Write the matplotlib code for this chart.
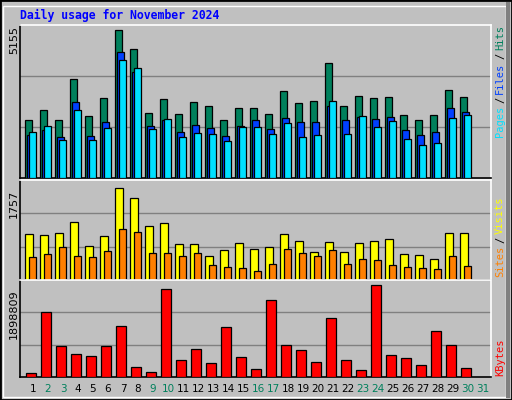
import matplotlib
matplotlib.use("Agg")
import matplotlib.pyplot as plt
from matplotlib.patches import Rectangle

days = list(range(1, 31))
hits = [2006,2356,2006,3441,2146,2776,5155,4490,2251,2741,2216,2636,2496,2006,2426,2426,2216,3021,2601,2671,4000,2496,2846,2776,2811,2181,2006,2181,3056,2811]
files = [1481,1656,1411,2636,1446,1936,4385,3697,1796,2006,1586,1831,1726,1446,1796,2006,1691,2076,1936,1936,2496,2006,2111,2041,2111,1656,1481,1586,2426,2286]
pages = [1586,1796,1306,2356,1306,1726,4105,3825,1691,2041,1411,1551,1516,1271,1761,1761,1516,1901,1411,1481,2671,1516,2146,1761,1971,1341,1131,1201,2076,2181]
visits = [878,859,898,1108,649,840,1757,1566,1031,1089,688,688,458,573,707,592,630,878,745,535,726,535,707,745,783,497,477,401,898,898]
sites = [439,497,630,458,439,554,974,917,516,516,458,516,286,248,229,172,306,592,516,458,573,306,401,382,286,248,229,210,458,267]
kbytes = [90000,1337000,631000,464000,423000,631000,1046000,215000,111000,1816000,360000,568000,298000,1026000,402000,173000,1587000,651000,547000,319000,1213000,340000,152000,1898809,444000,381000,256000,942000,651000,194000]
day_labels = [str(d) for d in range(1, 32)]
weekend = {2,3,9,10,16,17,23,24,30,31}

W, H = 512, 400
fig = plt.figure(figsize=(W/100, H/100), dpi=100)
fig.patch.set_facecolor('#c0c0c0')
fig.add_artist(Rectangle((0, 0), 1, 1, transform=fig.transFigure, fill=False, ec='black', lw=2))
fig.add_artist(Rectangle((3/W, 3/H), (W-9)/W, (H-9)/H, transform=fig.transFigure, fill=False, ec='white', lw=1))
fig.add_artist(Rectangle(((W-6)/W, 2/H), 4/W, (H-4)/H, transform=fig.transFigure, fill=True, fc='#808080', ec='none'))

GREEN, BLUE, CYAN = '#00805c', '#0040ff', '#00e0ff'
YEL, ORG, RED = '#ffff00', '#ff8000', '#ff0000'
x0, x1 = 20, 491
xlim = (-5/15, (491-25)/15)

def mkax(ytop, ybot):
    ax = fig.add_axes([x0/W, 1-ybot/H, (x1-x0)/W, (ybot-ytop)/H])
    ax.set_facecolor('#c0c0c0')
    ax.set_xlim(*xlim)
    ax.set_xticks([]); ax.set_yticks([])
    for s in ax.spines.values():
        s.set_color('white'); s.set_linewidth(1.2)
    ax.spines['left'].set_color('black'); ax.spines['bottom'].set_color('black')
    return ax

def bars(ax, vals, off, w, color):
    ax.bar([d-1+off/15 for d in days], vals, width=w/15, align='edge', color=color, edgecolor='black', lw=0.9, zorder=3)

ax1 = mkax(25, 178)
top1 = 5155*152/147.4
ax1.set_ylim(0, top1)
for g in (top1/3, 2*top1/3):
    ax1.axhline(g, color='#808080', lw=1, zorder=1)
bars(ax1, hits, 0, 7, GREEN)
bars(ax1, files, 2, 7, BLUE)
bars(ax1, pages, 4, 7, CYAN)

ax2 = mkax(180, 280)
top2 = 1757*100/92
ax2.set_ylim(0, top2)
for g in (top2/3, 2*top2/3):
    ax2.axhline(g, color='#808080', lw=1, zorder=1)
bars(ax2, visits, 0, 8, YEL)
bars(ax2, sites, 4, 7, ORG)

ax3 = mkax(280, 377)
top3 = 1898809*96/91.3
ax3.set_ylim(0, top3)
for g in (top3/3, 2*top3/3):
    ax3.axhline(g, color='#808080', lw=1, zorder=1)
bars(ax3, kbytes, 1, 10, RED)

for i, lab in enumerate(day_labels):
    xp = 33 + 15*i
    fig.text(xp/W, 1-389/H, lab, ha='center', va='center', fontsize=7.5,
             color=GREEN if (i+1) in weekend else 'black', family='DejaVu Sans')

fig.text(20/W, 1-15/H, 'Daily usage for November 2024', fontsize=8.3, fontweight='bold',
         color='#0000ff', family='DejaVu Sans Mono', va='center', ha='left')

fig.text(14/W, 1-40/H, '5155', rotation=90, ha='center', va='center', fontsize=8, family='DejaVu Sans')
fig.text(14/W, 1-204/H, '1757', rotation=90, ha='center', va='center', fontsize=8, family='DejaVu Sans')
fig.text(14/W, 1-314/H, '1898809', rotation=90, ha='center', va='center', fontsize=8, family='DejaVu Sans')

fig.canvas.draw()
renderer = fig.canvas.get_renderer()
def rlabel(parts, ybottom):
    y = ybottom
    for txt, col in parts:
        t = fig.text(500/W, 1-y/H, txt, rotation=90, ha='center', va='bottom', fontsize=7.5,
                     color=col, family='DejaVu Sans Mono')
        bb = t.get_window_extent(renderer)
        y -= bb.height + 3
rlabel([('Pages', CYAN), ('/', 'black'), ('Files', BLUE), ('/', 'black'), ('Hits', GREEN)], 137)
rlabel([('Sites', ORG), ('/', 'black'), ('Visits', YEL)], 277)
rlabel([('KBytes', RED)], 376)

fig.savefig('out.png', dpi=100, facecolor=fig.get_facecolor())
